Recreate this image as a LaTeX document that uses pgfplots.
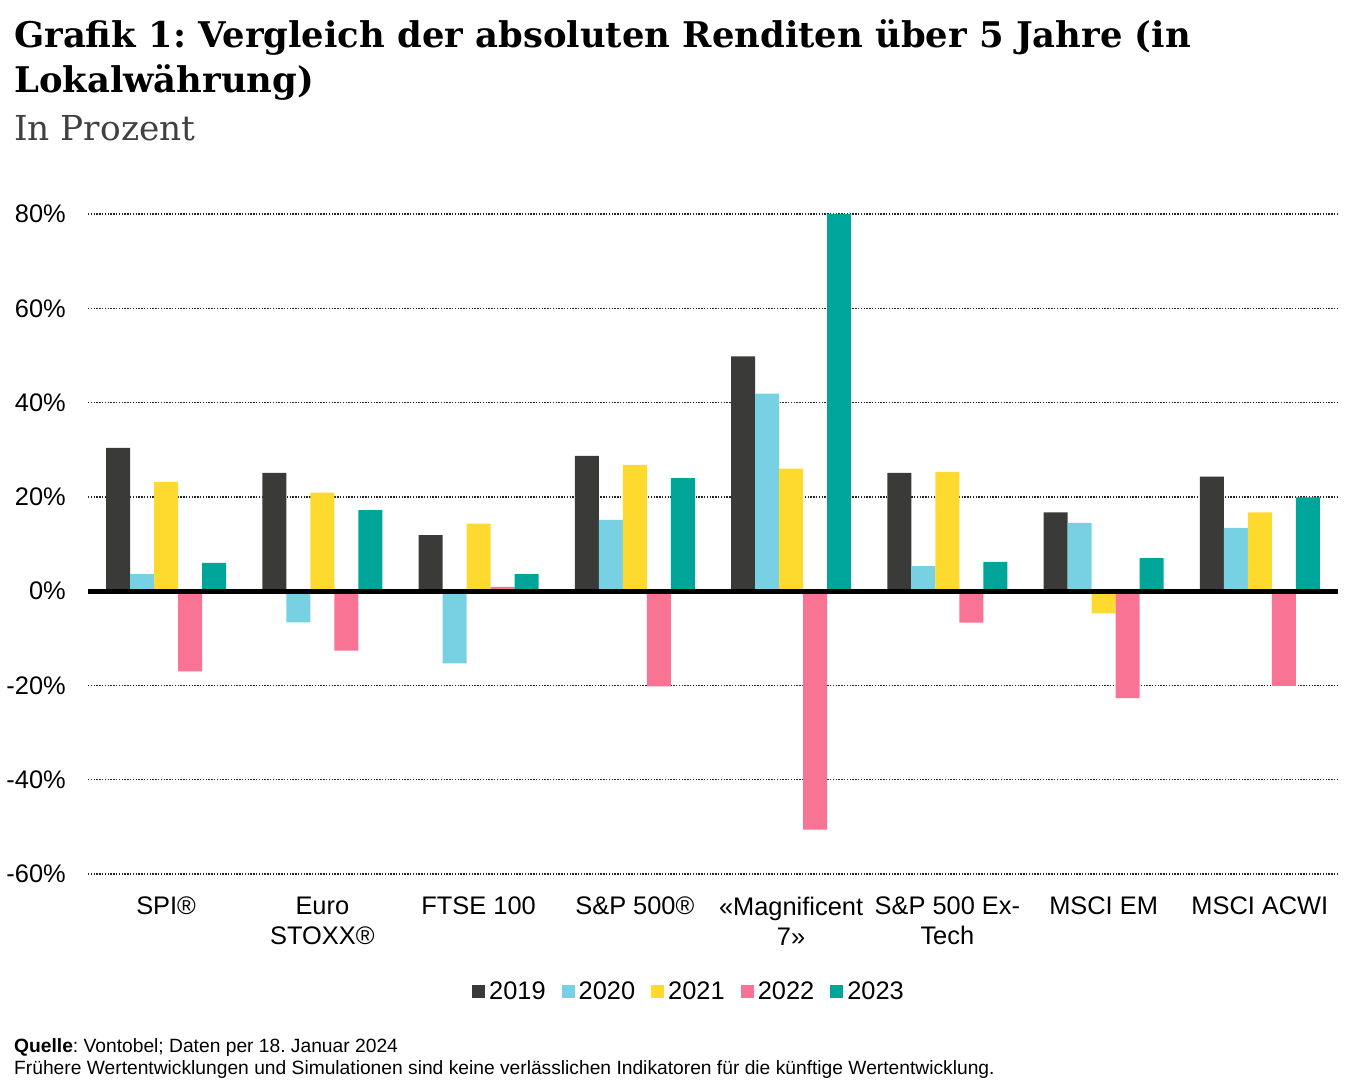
\documentclass[border=0pt]{standalone}
\usepackage{fontspec}
\setmainfont{Liberation Sans}
\newfontfamily\titlefont{DejaVu Serif}
\usepackage{pgfplots}
\usepackage{pgfplotstable}
\pgfplotsset{compat=1.18}
\frenchspacing
\definecolor{c2019}{HTML}{3A3A38}
\definecolor{c2020}{HTML}{78D0E3}
\definecolor{c2021}{HTML}{FFDA2E}
\definecolor{c2022}{HTML}{F97394}
\definecolor{c2023}{HTML}{00A59A}
\definecolor{subgray}{HTML}{404040}
\pgfplotsset{sqlegend/.style={legend image code/.code={\fill[##1,draw=none] (0bp,-6.5bp) rectangle (13bp,6.5bp);}}}
\pgfplotstableread{
x y2019 y2020 y2021 y2022 y2023
0 30.4 3.6 23.2 -17.0 6.0
1 25.1 -6.6 20.9 -12.6 17.2
2 11.9 -15.3 14.3 0.9 3.6
3 28.7 15.1 26.8 -20.2 24.0
4 49.8 41.9 26.0 -50.6 80.0
5 25.1 5.3 25.3 -6.7 6.2
6 16.7 14.5 -4.7 -22.7 7.0
7 24.3 13.4 16.7 -20.1 19.9
}\data
\begin{document}
\frenchspacing
\begin{tikzpicture}
\path[use as bounding box] (0,0) rectangle (1348bp,-1091bp);
\node[anchor=base west, inner sep=0] at (14bp,-47bp) {\titlefont\bfseries\fontsize{35.5}{40}\selectfont Grafik 1: Vergleich der absoluten Renditen über 5 Jahre (in};
\node[anchor=base west, inner sep=0] at (14bp,-92bp) {\titlefont\bfseries\fontsize{35.5}{40}\selectfont Lokalwährung)};
\node[anchor=base west, inner sep=0, text=subgray] at (14bp,-140bp) {\titlefont\fontsize{34.5}{40}\selectfont In Prozent};
\node[anchor=base west, inner sep=0] at (14bp,-1052bp) {\fontsize{19.3}{22}\selectfont\textbf{Quelle}: Vontobel; Daten per 18. Januar 2024};
\node[anchor=base west, inner sep=0] at (14bp,-1074bp) {\fontsize{19.3}{22}\selectfont Frühere Wertentwicklungen und Simulationen sind keine verlässlichen Indikatoren für die künftige Wertentwicklung.};
\begin{axis}[
  at={(88bp,-874bp)}, anchor=south west,
  width=1250bp, height=660bp, scale only axis,
  xmin=-0.5, xmax=7.5, ymin=-60, ymax=80,
  ybar=0pt, bar width=24bp,
  axis line style={draw=none},
  major tick length=0pt,
  tick style={draw=none},
  ymajorgrids,
  grid style={black!85, line width=1.3bp, dash pattern=on 1.4bp off 1.4bp},
  ytick={-60,-40,-20,0,20,40,60,80},
  yticklabels={-60\%,-40\%,-20\%,0\%,20\%,40\%,60\%,80\%},
  yticklabel style={font=\fontsize{25.5}{30}\selectfont, anchor=east, inner sep=0pt, xshift=-22bp},
  xtick={0,1,2,3,4,5,6,7},
  xticklabels={SPI®, {Euro\\STOXX®}, FTSE 100, S\&P 500®, {«Magnificent\\7»}, {S\&P 500 Ex-\\Tech}, MSCI EM, MSCI ACWI},
  xticklabel style={font=\fontsize{25.5}{30}\selectfont, align=center, anchor=north, inner sep=0pt, yshift=-23bp},
  legend columns=5,
  legend style={at={(472bp-88bp,-117bp)}, anchor=west, draw=none, fill=none, inner sep=0pt,
    font=\fontsize{25.5}{30}\selectfont,
    nodes={inner sep=0pt, anchor=west},
    /tikz/every odd column/.append style={column sep=4bp},
    /tikz/every even column/.append style={column sep=16bp}},
  legend cell align=left,
]
\addplot[fill=c2019, draw=none, sqlegend] table[x=x, y=y2019] {\data};
\addplot[fill=c2020, draw=none, sqlegend] table[x=x, y=y2020] {\data};
\addplot[fill=c2021, draw=none, sqlegend] table[x=x, y=y2021] {\data};
\addplot[fill=c2022, draw=none, sqlegend] table[x=x, y=y2022] {\data};
\addplot[fill=c2023, draw=none, sqlegend] table[x=x, y=y2023] {\data};
\legend{2019,2020,2021,2022,2023}
\draw[black, line width=5bp] (axis cs:-0.5,0) -- (axis cs:7.5,0);
\end{axis}
\end{tikzpicture}
\end{document}
